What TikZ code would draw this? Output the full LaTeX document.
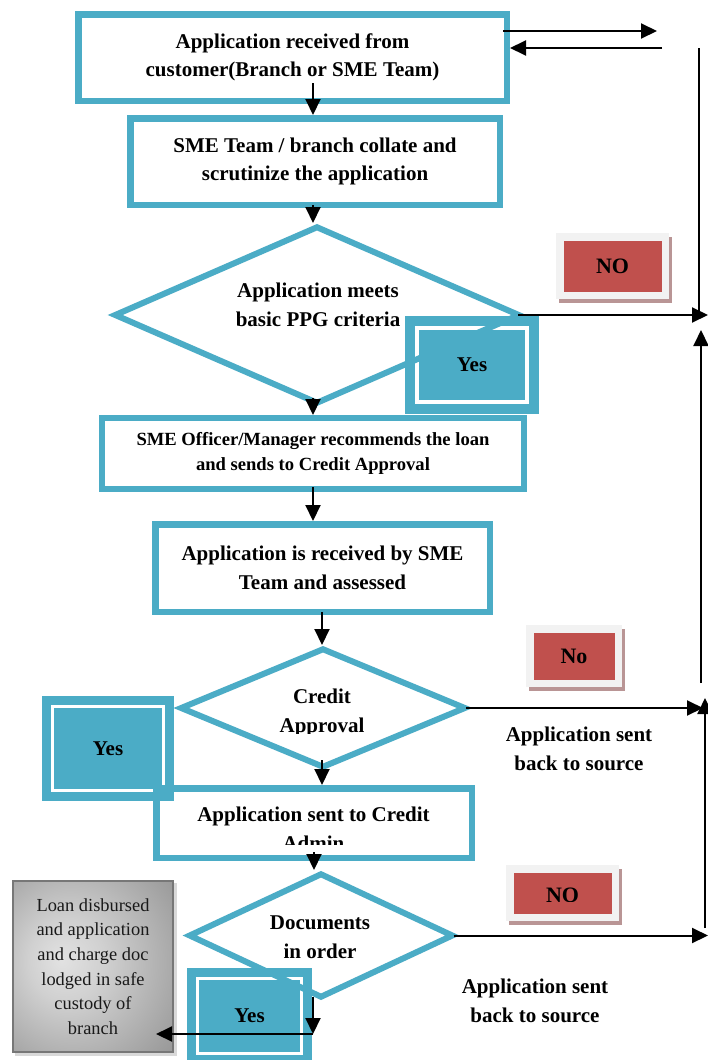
\documentclass[tikz,border=0pt]{standalone}
\usepackage{fontspec}
\setmainfont{Liberation Serif}
\usetikzlibrary{shapes.geometric,arrows.meta}
\definecolor{ac}{HTML}{4BACC6}
\definecolor{nored}{HTML}{C0504D}
\definecolor{noframe}{HTML}{F2F2F2}
\definecolor{noshad}{HTML}{B99595}
\definecolor{gA}{HTML}{E2E2E2}
\definecolor{gB}{HTML}{D0D0D0}
\definecolor{gC}{HTML}{A0A0A0}
\definecolor{gD}{HTML}{828282}
\definecolor{gE}{HTML}{505050}
\definecolor{gframe}{HTML}{777777}
\pgfdeclareradialshading{greyshade}{\pgfpoint{-10bp}{2bp}}{color(0bp)=(gA);color(12bp)=(gB);color(35bp)=(gC);color(50bp)=(gD);color(71bp)=(gE)}
\begin{document}
\begin{tikzpicture}[x=1pt,y=-1pt,
  bt/.style={font=\bfseries\fontsize{21}{28.5}\selectfont, align=center, inner sep=0pt},
  box/.style={bt, draw=ac, line width=6.5pt, rectangle},
  dia/.style={draw=ac, line width=6pt, diamond, inner sep=0pt, miter limit=10},
  yesbox/.style={bt, draw=ac, fill=ac, double=white, line width=10pt, double distance=4pt},
  nobox/.style={font=\bfseries\fontsize{22}{26}\selectfont, fill=nored, draw=noframe, line width=7.5pt, inner sep=0pt},
  arr/.style={line width=2pt, -{Triangle[length=16pt,width=15pt]}},
  plainline/.style={line width=1.5pt},
]
\fill[white] (0,0) rectangle (708,1060);
\useasboundingbox (0,0) rectangle (708,1060);

% boxes and decisions
\node[box, minimum width=428.5pt, minimum height=86.5pt] (b1) at (292.5,57.5) {Application received from\\customer(Branch or SME Team)};
\node[box, minimum width=369.5pt, minimum height=86.5pt] (b2) at (315,161.5) {SME Team / branch collate and\\scrutinize the application};

\node[yesbox, minimum width=110pt, minimum height=74pt] (y1) at (472,365) {Yes};
\node[dia, minimum width=406pt, minimum height=178pt] (d1) at (317,315) {};
\node[bt] (d1t) at (318,305) {Application meets\\basic PPG criteria};

\node[box, line width=6pt, font=\bfseries\fontsize{18.6}{25}\selectfont, minimum width=422pt, minimum height=71pt] (b3) at (313,453.5) {SME Officer/Manager recommends the loan\\and sends to Credit Approval};
\node[box, minimum width=334.5pt, minimum height=87.5pt] (b4) at (322.5,568) {Application is received by SME\\Team and assessed};

\node[yesbox, line width=9pt, double distance=3pt, minimum width=111pt, minimum height=84pt] (y2) at (108,748.5) {Yes};
\node[dia, minimum width=286pt, minimum height=120pt] (d2) at (323,708) {};
\begin{scope}
  \clip (160,650) rectangle (480,733);
  \node[bt] (d2t) at (322,713) {Credit\\Approval};
\end{scope}

\node[box, minimum width=315.5pt, minimum height=69.5pt] (b5) at (314,823) {};
\begin{scope}
  \clip (160,790) rectangle (470,844);
  \node[bt] (b5t) at (313.5,829) {Application sent to Credit\\Admin};
\end{scope}

\node[yesbox, line width=9pt, double distance=3pt, minimum width=104pt, minimum height=75pt] (y3) at (249.5,1016) {Yes};
\node[dia, minimum width=265pt, minimum height=125pt] (d3) at (321,935.5) {};
\node[bt] (d3t) at (320,937) {Documents\\in order};

% grey outcome box
\fill[gray!30] (15,883) rectangle (177,1056);
\node[draw=gframe, line width=2pt, shade, shading=greyshade, minimum width=160pt, minimum height=171pt,
      font=\fontsize{18.4}{24.6}\selectfont, align=center, inner sep=0pt, text=black!90] (gb) at (93,966.5)
  {Loan disbursed\\and application\\and charge doc\\lodged in safe\\custody of\\branch};

% NO boxes
\fill[noshad] (559,237) rectangle (672,303);
\node[nobox, minimum width=105.5pt, minimum height=58.5pt] (n1) at (612.5,266) {NO};
\fill[noshad] (529,629) rectangle (625,691);
\node[nobox, minimum width=88.5pt, minimum height=54.5pt] (n2) at (574,656) {No};
\fill[noshad] (509,869) rectangle (622,925);
\node[nobox, minimum width=105.5pt, minimum height=48.5pt] (n3) at (562.5,893) {};
\begin{scope}
  \clip (515,875) rectangle (610,901);
  \node[font=\bfseries\fontsize{22}{26}\selectfont, inner sep=0pt] (n3t) at (562.5,895.5) {NO};
\end{scope}

% side labels
\node[bt] (s1) at (579,749) {Application sent\\back to source};
\node[bt] (s2) at (535,1001) {Application sent\\back to source};

% coordinates
\coordinate (a1) at (313,83);
\coordinate (a2) at (313,205);
\coordinate (a3) at (313,398);
\coordinate (a4) at (313,487);
\coordinate (a5) at (322,612);
\coordinate (a6) at (322,760);
\coordinate (a7) at (314,852);
\coordinate (a8) at (313,997);
\coordinate (c1) at (313,1034);
\coordinate (c2) at (156,1034);
\coordinate (t1a) at (503,31);
\coordinate (t1b) at (657,31);
\coordinate (t2a) at (662,48);
\coordinate (v1a) at (699,48);
\coordinate (v1b) at (699,314);
\coordinate (u1a) at (701,683);
\coordinate (u1b) at (701,330);
\coordinate (u2a) at (705,928);
\coordinate (u2b) at (705,698);
\coordinate (r1) at (708,315);
\coordinate (r2) at (703,708);
\coordinate (r3) at (708,935.5);

% main flow arrows
\draw[arr] (a1) -- (a1 |- b2.north);
\draw[arr] (a2) -- (a2 |- d1.north);
\draw[arr] (a3) -- (a3 |- b3.north);
\draw[arr] (a4) -- (a4 |- b4.north);
\draw[arr] (a5) -- (a5 |- d2.north);
\draw[arr] (a6) -- (a6 |- b5.north);
\draw[arr] (a7) -- (a7 |- d3.north);
\draw[arr] (a8) -- (c1);
\draw[arr] (c1) -- (c2);

% top arrows
\draw[arr] (t1a) -- (t1b);
\draw[arr] (t2a) -- (t2a -| b1.east);

% right side
\draw[arr] ([xshift=-5pt]d1.east) -- (r1);
\draw[plainline] (v1a) -- (v1b);
\draw[arr] (u1a) -- (u1b);
\draw[arr] ([xshift=-3pt]d2.east) -- (r2);
\draw[arr] (u2a) -- (u2b);
\draw[arr] ([xshift=-3pt]d3.east) -- (r3);
\end{tikzpicture}
\end{document}
